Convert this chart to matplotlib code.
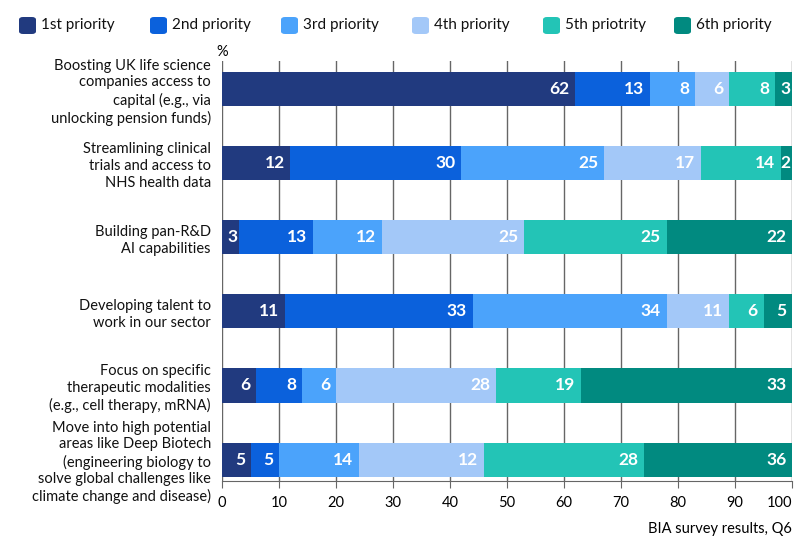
import numpy as np
import matplotlib
matplotlib.use("Agg")
from matplotlib import pyplot as plt
from matplotlib.patches import FancyBboxPatch

plt.rcParams['font.family'] = ['Lato', 'DejaVu Sans']

categories = [
    "Boosting UK life science\ncompanies access to\ncapital (e.g., via\nunlocking pension funds)",
    "Streamlining clinical\ntrials and access to\nNHS health data",
    "Building pan-R&D\nAI capabilities",
    "Developing talent to\nwork in our sector",
    "Focus on specific\ntherapeutic modalities\n(e.g., cell therapy, mRNA)",
    "Move into high potential\nareas like Deep Biotech\n(engineering biology to\nsolve global challenges like\nclimate change and disease)",
]
series_names = ["1st priority", "2nd priority", "3rd priority",
                "4th priority", "5th priotrity", "6th priority"]

# printed labels
p1 = [62, 12, 3, 11, 6, 5]
p2 = [13, 30, 13, 33, 8, 5]
p3 = [8, 25, 12, 34, 6, 14]
p4 = [6, 17, 25, 11, 28, 12]
p5 = [8, 14, 25, 6, 19, 28]
p6 = [3, 2, 22, 5, 33, 36]

# segment lengths as drawn (last two rows don't match their labels)
w1 = [62, 12, 3, 11, 6, 5]
w2 = [13, 30, 13, 33, 8, 5]
w3 = [8, 25, 12, 34, 6, 14]
w4 = [6, 17, 25, 11, 28, 22]
w5 = [8, 14, 25, 6, 15, 28]
w6 = [3, 2, 22, 5, 37, 26]

colors = ["#213a7f", "#0b61dc", "#4ba3fb", "#a3c8f8", "#23c4b6", "#018a80"]

fig = plt.figure(figsize=(8.03, 5.45), dpi=100)
ax = fig.add_axes([0.2765, 0.1174, 0.7098, 0.7706])

y = np.arange(len(categories))
left = np.zeros(len(categories))
for labs, widths, col in zip([p1, p2, p3, p4, p5, p6],
                             [w1, w2, w3, w4, w5, w6], colors):
    widths = np.array(widths)
    ax.barh(y, widths, left=left, height=0.46, color=col, zorder=3)
    for yi, l, w, lab in zip(y, left, widths, labs):
        pad = 1.0 if w >= 5 else 0.3
        ax.text(l + w - pad, yi, str(lab), ha='right', va='center',
                color='white', fontsize=12.5, fontweight='bold', zorder=4)
    left += widths

ax.set_xlim(0, 100)
ax.set_ylim(5.29, -0.38)
ax.set_xticks(np.arange(0, 101, 10))
ax.set_yticks(y)
ax.set_yticklabels(categories, fontsize=10.5, color='#111111', linespacing=1.25)
ax.tick_params(axis='y', length=0, pad=8)
ax.tick_params(axis='x', length=5, color='#666666', labelsize=10.5, pad=6)
ax.get_xticklabels()[-1].set_horizontalalignment('right')
ax.grid(axis='x', color='#666666', linewidth=1, zorder=0)
for s in ['top', 'right', 'left']:
    ax.spines[s].set_visible(False)
ax.spines['bottom'].set_color('#666666')

fig.text(222 / 803, 1 - 52 / 545, "%", ha='center', va='center', fontsize=10.5)
fig.text(792 / 803, 1 - 529 / 545, "BIA survey results, Q6", ha='right',
         va='center', fontsize=10.5)

# legend
for i, (name, col) in enumerate(zip(series_names, colors)):
    x0 = 19 + i * 131
    box = FancyBboxPatch((x0 / 803, 1 - 34 / 545), 17 / 803, 17 / 545,
                         boxstyle="round,pad=0,rounding_size=0.005",
                         transform=fig.transFigure, facecolor=col,
                         edgecolor='none')
    fig.patches.append(box)
    fig.text((x0 + 22) / 803, 1 - 25 / 545, name, ha='left', va='center',
             fontsize=11, color='#111111')

fig.savefig("out.png", dpi=100)
